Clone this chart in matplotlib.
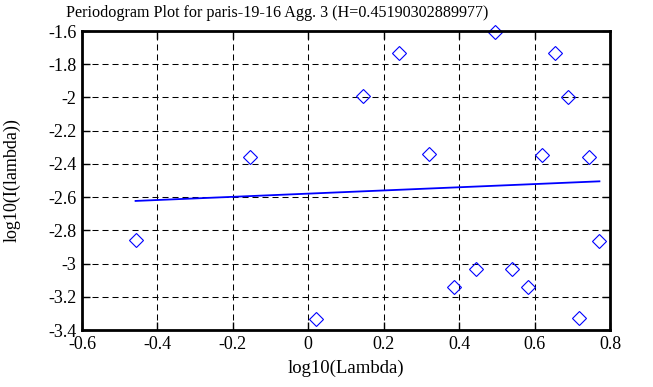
import matplotlib
matplotlib.use("Agg")
import matplotlib.pyplot as plt
from matplotlib.ticker import FuncFormatter

log_lambda = [-0.458, -0.155, 0.020, 0.145, 0.241, 0.320, 0.386, 0.446, 0.496,
              0.541, 0.583, 0.621, 0.655, 0.689, 0.717, 0.745, 0.772]
log_i = [-2.858, -2.359, -3.336, -1.991, -1.734, -2.342, -3.139, -3.035, -1.604,
         -3.035, -3.139, -2.345, -1.734, -1.997, -3.330, -2.359, -2.862]

fit_x = [-0.458, 0.772]
fit_y = [-2.623, -2.505]

plt.rcParams['font.family'] = ['Liberation Serif', 'DejaVu Serif']

fig = plt.figure(figsize=(6.53, 3.87), dpi=100)
ax = fig.add_axes([82 / 653, 1 - 330 / 387, 528 / 653, 299 / 387])

ax.plot(log_lambda, log_i, linestyle='none', marker='D', markersize=7.2,
        markerfacecolor='none', markeredgecolor='#0000ff', markeredgewidth=0.8,
        clip_on=False)
ax.plot(fit_x, fit_y, color='#0000ff', linewidth=1.3)

ax.set_xlim(-0.6, 0.8)
ax.set_ylim(-3.4, -1.6)
ax.set_xticks([-0.6, -0.4, -0.2, 0, 0.2, 0.4, 0.6, 0.8])
ax.set_yticks([-3.4, -3.2, -3.0, -2.8, -2.6, -2.4, -2.2, -2.0, -1.8, -1.6])
fmt = FuncFormatter(lambda v, p: "%g" % round(v, 2))
ax.xaxis.set_major_formatter(fmt)
ax.yaxis.set_major_formatter(fmt)

ax.grid(True, color='black', linestyle=(0, (5.8, 3.8)), linewidth=0.75)
ax.tick_params(direction='in', length=6, width=1, top=True, right=True,
               labelsize=13, colors='black', pad=4)
for s in ax.spines.values():
    s.set_linewidth(2)

# title sits left of the axes centre, like the original
fig.text(277 / 653, 1 - 17 / 387,
         "Periodogram Plot for paris-19-16 Agg. 3 (H=0.45190302889977)",
         fontsize=11.6, ha='center', va='baseline')
ax.set_xlabel("log10(Lambda)", fontsize=13.5, labelpad=5)
ax.set_ylabel("log10(I(lambda))", fontsize=13, labelpad=20)

fig.savefig("out.png", dpi=100)
